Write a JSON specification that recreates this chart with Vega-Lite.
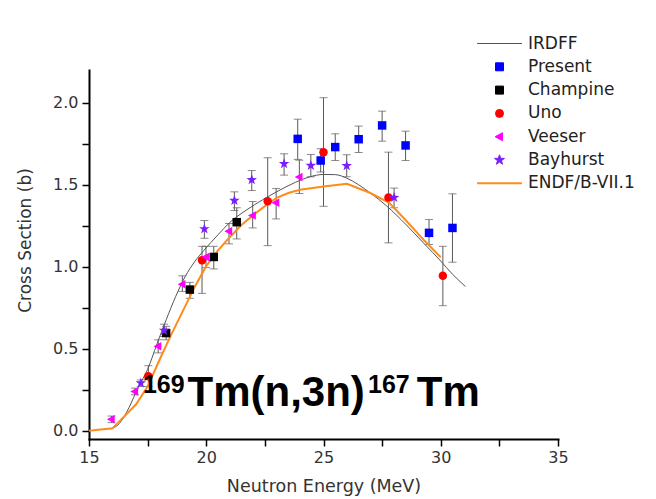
{
  "$schema": "https://vega.github.io/schema/vega-lite/v6.json",
  "width": 469,
  "height": 369,
  "autosize": {"type": "none"},
  "padding": {"left": 89, "top": 70, "right": 98, "bottom": 60},
  "background": "white",
  "config": {"view": {"stroke": null}, "font": "DejaVu Sans"},
  "datasets": {
    "pts": [
      {"series": "Present", "E": 23.9, "s": 1.78, "lo": 1.655, "hi": 1.9},
      {"series": "Present", "E": 24.88, "s": 1.648, "lo": 1.578, "hi": 1.72},
      {"series": "Present", "E": 25.5, "s": 1.73, "lo": 1.648, "hi": 1.811},
      {"series": "Present", "E": 26.5, "s": 1.778, "lo": 1.697, "hi": 1.858},
      {"series": "Present", "E": 27.5, "s": 1.862, "lo": 1.766, "hi": 1.949},
      {"series": "Present", "E": 28.5, "s": 1.74, "lo": 1.648, "hi": 1.827},
      {"series": "Present", "E": 29.5, "s": 1.207, "lo": 1.136, "hi": 1.288},
      {"series": "Present", "E": 30.5, "s": 1.237, "lo": 1.028, "hi": 1.445},
      {"series": "Champine", "E": 18.29, "s": 0.596, "lo": 0.555, "hi": 0.637},
      {"series": "Champine", "E": 19.3, "s": 0.861, "lo": 0.808, "hi": 0.905},
      {"series": "Champine", "E": 20.32, "s": 1.06, "lo": 0.987, "hi": 1.125},
      {"series": "Champine", "E": 21.3, "s": 1.272, "lo": 1.17, "hi": 1.36},
      {"series": "Uno", "E": 17.53, "s": 0.332, "lo": 0.27, "hi": 0.397},
      {"series": "Uno", "E": 19.82, "s": 1.04, "lo": 0.838, "hi": 1.125},
      {"series": "Uno", "E": 22.62, "s": 1.4, "lo": 1.129, "hi": 1.665},
      {"series": "Uno", "E": 25.0, "s": 1.699, "lo": 1.369, "hi": 2.031},
      {"series": "Uno", "E": 27.77, "s": 1.422, "lo": 1.146, "hi": 1.699},
      {"series": "Uno", "E": 30.09, "s": 0.946, "lo": 0.763, "hi": 1.125},
      {"series": "Veeser", "E": 15.96, "s": 0.071, "lo": 0.05, "hi": 0.09},
      {"series": "Veeser", "E": 16.96, "s": 0.24, "lo": 0.22, "hi": 0.26},
      {"series": "Veeser", "E": 17.95, "s": 0.515, "lo": 0.475, "hi": 0.555},
      {"series": "Veeser", "E": 18.98, "s": 0.893, "lo": 0.85, "hi": 0.945},
      {"series": "Veeser", "E": 19.99, "s": 1.06, "lo": 0.995, "hi": 1.125},
      {"series": "Veeser", "E": 20.97, "s": 1.217, "lo": 1.14, "hi": 1.264},
      {"series": "Veeser", "E": 21.98, "s": 1.313, "lo": 1.237, "hi": 1.398},
      {"series": "Veeser", "E": 22.98, "s": 1.39, "lo": 1.292, "hi": 1.477},
      {"series": "Veeser", "E": 23.97, "s": 1.548, "lo": 1.447, "hi": 1.65},
      {"series": "Bayhurst", "E": 17.21, "s": 0.291, "lo": 0.27, "hi": 0.31},
      {"series": "Bayhurst", "E": 18.2, "s": 0.612, "lo": 0.575, "hi": 0.65},
      {"series": "Bayhurst", "E": 19.92, "s": 1.231, "lo": 1.174, "hi": 1.282},
      {"series": "Bayhurst", "E": 21.2, "s": 1.404, "lo": 1.343, "hi": 1.457},
      {"series": "Bayhurst", "E": 21.94, "s": 1.53, "lo": 1.465, "hi": 1.587},
      {"series": "Bayhurst", "E": 23.32, "s": 1.628, "lo": 1.559, "hi": 1.689},
      {"series": "Bayhurst", "E": 24.46, "s": 1.618, "lo": 1.549, "hi": 1.685},
      {"series": "Bayhurst", "E": 25.99, "s": 1.616, "lo": 1.549, "hi": 1.683},
      {"series": "Bayhurst", "E": 28.01, "s": 1.422, "lo": 1.36, "hi": 1.48}
    ],
    "irdff": [
      {"series": "IRDFF", "E": 15.9, "s": 0.01},
      {"series": "IRDFF", "E": 16.3, "s": 0.045},
      {"series": "IRDFF", "E": 16.7, "s": 0.14},
      {"series": "IRDFF", "E": 17.1, "s": 0.265},
      {"series": "IRDFF", "E": 17.5, "s": 0.375},
      {"series": "IRDFF", "E": 17.9, "s": 0.53},
      {"series": "IRDFF", "E": 18.3, "s": 0.68},
      {"series": "IRDFF", "E": 18.7, "s": 0.82},
      {"series": "IRDFF", "E": 19.1, "s": 0.94},
      {"series": "IRDFF", "E": 19.5, "s": 1.03},
      {"series": "IRDFF", "E": 19.9, "s": 1.1},
      {"series": "IRDFF", "E": 20.5, "s": 1.195},
      {"series": "IRDFF", "E": 21.0, "s": 1.27},
      {"series": "IRDFF", "E": 21.7, "s": 1.345},
      {"series": "IRDFF", "E": 22.4, "s": 1.408},
      {"series": "IRDFF", "E": 23.0, "s": 1.457},
      {"series": "IRDFF", "E": 23.8, "s": 1.515},
      {"series": "IRDFF", "E": 24.4, "s": 1.548},
      {"series": "IRDFF", "E": 25.0, "s": 1.563},
      {"series": "IRDFF", "E": 25.5, "s": 1.562},
      {"series": "IRDFF", "E": 26.0, "s": 1.54},
      {"series": "IRDFF", "E": 26.5, "s": 1.5},
      {"series": "IRDFF", "E": 27.0, "s": 1.45},
      {"series": "IRDFF", "E": 27.7, "s": 1.37},
      {"series": "IRDFF", "E": 28.5, "s": 1.26},
      {"series": "IRDFF", "E": 29.3, "s": 1.14},
      {"series": "IRDFF", "E": 30.0, "s": 1.035},
      {"series": "IRDFF", "E": 30.5, "s": 0.955},
      {"series": "IRDFF", "E": 31.05, "s": 0.88}
    ],
    "endf": [
      {"series": "ENDF/B-VII.1", "E": 15.0, "s": 0.0},
      {"series": "ENDF/B-VII.1", "E": 16.0, "s": 0.015},
      {"series": "ENDF/B-VII.1", "E": 17.0, "s": 0.16},
      {"series": "ENDF/B-VII.1", "E": 17.5, "s": 0.27},
      {"series": "ENDF/B-VII.1", "E": 18.0, "s": 0.43},
      {"series": "ENDF/B-VII.1", "E": 18.5, "s": 0.585},
      {"series": "ENDF/B-VII.1", "E": 19.0, "s": 0.73},
      {"series": "ENDF/B-VII.1", "E": 19.5, "s": 0.875},
      {"series": "ENDF/B-VII.1", "E": 20.0, "s": 1.005},
      {"series": "ENDF/B-VII.1", "E": 20.5, "s": 1.1},
      {"series": "ENDF/B-VII.1", "E": 21.0, "s": 1.18},
      {"series": "ENDF/B-VII.1", "E": 21.5, "s": 1.255},
      {"series": "ENDF/B-VII.1", "E": 22.0, "s": 1.315},
      {"series": "ENDF/B-VII.1", "E": 22.5, "s": 1.37},
      {"series": "ENDF/B-VII.1", "E": 23.0, "s": 1.42},
      {"series": "ENDF/B-VII.1", "E": 23.5, "s": 1.45},
      {"series": "ENDF/B-VII.1", "E": 24.0, "s": 1.47},
      {"series": "ENDF/B-VII.1", "E": 25.0, "s": 1.49},
      {"series": "ENDF/B-VII.1", "E": 26.0, "s": 1.506},
      {"series": "ENDF/B-VII.1", "E": 27.0, "s": 1.45},
      {"series": "ENDF/B-VII.1", "E": 27.8, "s": 1.39},
      {"series": "ENDF/B-VII.1", "E": 28.5, "s": 1.285},
      {"series": "ENDF/B-VII.1", "E": 29.3, "s": 1.16},
      {"series": "ENDF/B-VII.1", "E": 30.0, "s": 1.058}
    ],
    "annMain": [
      {"label": "Tm(n,3n)", "E": 19.2, "s": 0.153},
      {"label": "Tm", "E": 28.98, "s": 0.153}
    ],
    "annSup": [
      {"label": "169", "E": 17.3, "s": 0.232},
      {"label": "167", "E": 26.9, "s": 0.232}
    ]
  },
  "layer": [
    {
      "data": {"name": "pts"},
      "mark": {"type": "errorbar", "color": "#5a5a5a", "thickness": 1, "ticks": {"size": 8, "thickness": 1, "color": "#5a5a5a"}},
      "encoding": {
        "x": {"field": "E", "type": "quantitative", "title": "Neutron Energy (MeV)",
          "scale": {"domain": [15, 35], "nice": false, "zero": false},
          "axis": {"values": [15, 17.5, 20, 22.5, 25, 27.5, 30, 32.5, 35],
            "labelExpr": "datum.value % 5 === 0 ? datum.label : ''",
            "grid": false, "domainColor": "#000", "domainWidth": 2, "domainCap": "square",
            "tickColor": "#000", "tickWidth": 1.5, "tickSize": 7,
            "labelFont": "DejaVu Sans", "labelFontSize": 16, "labelColor": "#333", "labelPadding": 3,
            "labelFlush": false, "labelOverlap": false,
            "titleFont": "DejaVu Sans", "titleFontSize": 17.5, "titleFontWeight": "normal", "titleColor": "#333",
            "titleY": 52, "titleBaseline": "alphabetic",
            "encode": {"ticks": {"update": {"y2": {"signal": "datum.value % 5 === 0 ? 7 : 4"}}}}}},
        "y": {"field": "lo", "type": "quantitative", "title": "Cross Section (b)",
          "scale": {"domain": [-0.05, 2.2], "nice": false, "zero": false},
          "axis": {"values": [0, 0.25, 0.5, 0.75, 1, 1.25, 1.5, 1.75, 2],
            "labelExpr": "(datum.value * 2) % 1 === 0 ? format(datum.value, '.1f') : ''",
            "grid": false, "domainColor": "#000", "domainWidth": 2, "domainCap": "square",
            "tickColor": "#000", "tickWidth": 1.5, "tickSize": 7,
            "labelFont": "DejaVu Sans", "labelFontSize": 16, "labelColor": "#333", "labelPadding": 4,
            "labelOverlap": false,
            "titleFont": "DejaVu Sans", "titleFontSize": 17, "titleFontWeight": "normal", "titleColor": "#333",
            "titleX": -64, "titleY": 170, "titleBaseline": "middle", "titleAlign": "center", "titleAngle": -90,
            "encode": {"ticks": {"update": {"x2": {"signal": "(datum.value * 2) % 1 === 0 ? -7 : -4"}}}}}},
        "y2": {"field": "hi"}
      }
    },
    {
      "data": {"name": "irdff"},
      "mark": {"type": "line", "strokeWidth": 1, "interpolate": "monotone"},
      "encoding": {
        "x": {"field": "E", "type": "quantitative", "title": "Neutron Energy (MeV)"},
        "y": {"field": "s", "type": "quantitative", "title": "Cross Section (b)"},
        "color": {"field": "series", "type": "nominal",
          "scale": {"domain": ["IRDFF", "Present", "Champine", "Uno", "Veeser", "Bayhurst", "ENDF/B-VII.1"],
            "range": ["#555555", "#0000ff", "#000000", "#ff0000", "#ff00ff", "#7a1dff", "#ff8c1a"]},
          "legend": {"title": null, "orient": "none", "legendX": 402, "legendY": -35, "symbolSize": 64,
            "labelFont": "DejaVu Sans", "labelFontSize": 17, "labelColor": "#222", "labelOffset": 20,
            "rowPadding": 5.3, "padding": 0, "symbolOpacity": 1,
            "encode": {"symbols": {"update": {
              "shape": {"scale": "shape", "field": "value"},
              "fill": {"scale": "color", "field": "value"},
              "stroke": {"scale": "color", "field": "value"},
              "strokeWidth": {"signal": "datum.value === 'ENDF/B-VII.1' ? 2 : 1"},
              "opacity": {"value": 1}}}}}}
      }
    },
    {
      "data": {"name": "endf"},
      "mark": {"type": "line", "strokeWidth": 2},
      "encoding": {
        "x": {"field": "E", "type": "quantitative", "title": "Neutron Energy (MeV)"},
        "y": {"field": "s", "type": "quantitative", "title": "Cross Section (b)"},
        "color": {"field": "series", "type": "nominal",
          "scale": {"domain": ["IRDFF", "Present", "Champine", "Uno", "Veeser", "Bayhurst", "ENDF/B-VII.1"],
            "range": ["#555555", "#0000ff", "#000000", "#ff0000", "#ff00ff", "#7a1dff", "#ff8c1a"]},
          "legend": {"title": null, "orient": "none", "legendX": 402, "legendY": -35, "symbolSize": 64,
            "labelFont": "DejaVu Sans", "labelFontSize": 17, "labelColor": "#222", "labelOffset": 20,
            "rowPadding": 5.3, "padding": 0, "symbolOpacity": 1,
            "encode": {"symbols": {"update": {
              "shape": {"scale": "shape", "field": "value"},
              "fill": {"scale": "color", "field": "value"},
              "stroke": {"scale": "color", "field": "value"},
              "strokeWidth": {"signal": "datum.value === 'ENDF/B-VII.1' ? 2 : 1"},
              "opacity": {"value": 1}}}}}}
      }
    },
    {
      "data": {"name": "pts"},
      "mark": {"type": "point", "filled": true, "opacity": 1, "size": 72, "strokeWidth": 0},
      "encoding": {
        "x": {"field": "E", "type": "quantitative", "title": "Neutron Energy (MeV)"},
        "y": {"field": "s", "type": "quantitative", "title": "Cross Section (b)"},
        "color": {"field": "series", "type": "nominal",
          "scale": {"domain": ["IRDFF", "Present", "Champine", "Uno", "Veeser", "Bayhurst", "ENDF/B-VII.1"],
            "range": ["#555555", "#0000ff", "#000000", "#ff0000", "#ff00ff", "#7a1dff", "#ff8c1a"]},
          "legend": {"title": null, "orient": "none", "legendX": 402, "legendY": -35, "symbolSize": 64,
            "labelFont": "DejaVu Sans", "labelFontSize": 17, "labelColor": "#222", "labelOffset": 20,
            "rowPadding": 5.3, "padding": 0, "symbolOpacity": 1,
            "encode": {"symbols": {"update": {
              "shape": {"scale": "shape", "field": "value"},
              "fill": {"scale": "color", "field": "value"},
              "stroke": {"scale": "color", "field": "value"},
              "strokeWidth": {"signal": "datum.value === 'ENDF/B-VII.1' ? 2 : 1"},
              "opacity": {"value": 1}}}}}},
        "shape": {"field": "series", "type": "nominal",
          "scale": {"domain": ["IRDFF", "Present", "Champine", "Uno", "Veeser", "Bayhurst", "ENDF/B-VII.1"],
            "range": ["M-5.6,0H5.6", "square", "square", "circle", "M-1.1,0L0.75,-1L0.75,1Z",
              "M0,-1.3L0.306,-0.421L1.236,-0.402L0.494,0.161L0.764,1.052L0,0.52L-0.764,1.052L-0.494,0.161L-1.236,-0.402L-0.306,-0.421Z",
              "M-5.6,0H5.6"]},
          "legend": {"title": null, "orient": "none", "legendX": 402, "legendY": -35, "symbolSize": 64,
            "labelFont": "DejaVu Sans", "labelFontSize": 17, "labelColor": "#222", "labelOffset": 20,
            "rowPadding": 5.3, "padding": 0, "symbolOpacity": 1,
            "encode": {"symbols": {"update": {
              "shape": {"scale": "shape", "field": "value"},
              "fill": {"scale": "color", "field": "value"},
              "stroke": {"scale": "color", "field": "value"},
              "strokeWidth": {"signal": "datum.value === 'ENDF/B-VII.1' ? 2 : 1"},
              "opacity": {"value": 1}}}}}}
      }
    },
    {
      "data": {"name": "annSup"},
      "mark": {"type": "text", "align": "left", "baseline": "alphabetic", "font": "Liberation Sans", "fontWeight": "bold", "fontSize": 25, "color": "#000"},
      "encoding": {
        "x": {"field": "E", "type": "quantitative", "title": "Neutron Energy (MeV)"},
        "y": {"field": "s", "type": "quantitative", "title": "Cross Section (b)"},
        "text": {"field": "label"}
      }
    },
    {
      "data": {"name": "annMain"},
      "mark": {"type": "text", "align": "left", "baseline": "alphabetic", "font": "Liberation Sans", "fontWeight": "bold", "fontSize": 42, "color": "#000"},
      "encoding": {
        "x": {"field": "E", "type": "quantitative", "title": "Neutron Energy (MeV)"},
        "y": {"field": "s", "type": "quantitative", "title": "Cross Section (b)"},
        "text": {"field": "label"}
      }
    }
  ]
}
